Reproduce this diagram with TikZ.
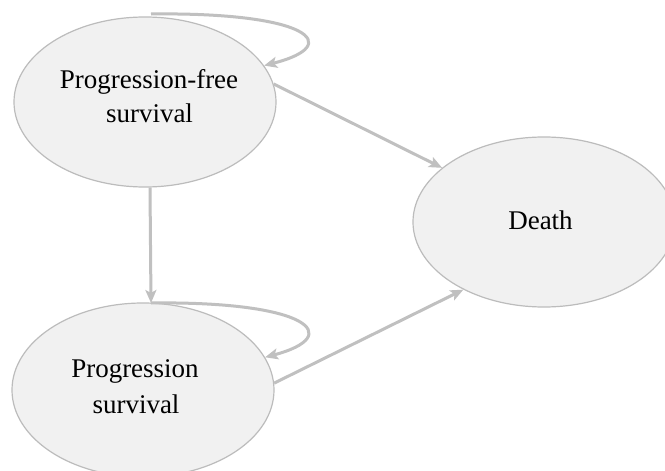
\documentclass[tikz,border=0pt]{standalone}
\usepackage{fontspec}
\setmainfont{Liberation Serif}
\usetikzlibrary{arrows.meta,shapes.geometric}
\definecolor{statefill}{HTML}{F1F1F1}
\definecolor{stateline}{HTML}{BCBCBC}
\definecolor{arrowgray}{HTML}{C0C0C0}
\tikzset{
  state/.style={ellipse, draw=stateline, line width=1.2pt, fill=statefill,
    minimum width=262pt, minimum height=170pt, inner sep=0pt},
  lbl/.style={anchor=base, inner sep=0pt, font=\fontsize{27}{35}\selectfont, text=black},
  conn/.style={draw=arrowgray, line width=3pt,
    -{Stealth[length=13pt,width=11pt,inset=3pt]}},
}
\begin{document}
\begin{tikzpicture}[x=1pt,y=-1pt]
\useasboundingbox (0,0) rectangle (665,471);
\fill[white] (0,0) rectangle (665,471);
\node[state] (pfs) at (145,102) {};
\node[state, minimum height=174pt] (ps) at (143,390) {};
\node[state] (death) at (544,222) {};
\node[lbl] (pfs1) at (149,88) {Progression-free};
\node[lbl] (pfs2) at (149.5,122) {survival};
\node[lbl] (ps1) at (135,377) {Progression};
\node[lbl] (ps2) at (136,413) {survival};
\node[lbl] (d1) at (540.5,229) {Death};
\coordinate (pfstop) at (151,14);
\coordinate (pstop) at (151,303);
% self loops
\draw[conn] (pfstop) .. controls (310,12) and (345,45) .. (pfs.17);
\draw[conn] (pstop) .. controls (310,301) and (345,336) .. (ps.15);
% transitions
\draw[conn] ([xshift=5pt]pfs.south) -- (pstop);
\draw[conn] (pfs.8) -- (death.152);
\draw[conn] (ps.3) -- (death.-140);
\end{tikzpicture}
\end{document}
